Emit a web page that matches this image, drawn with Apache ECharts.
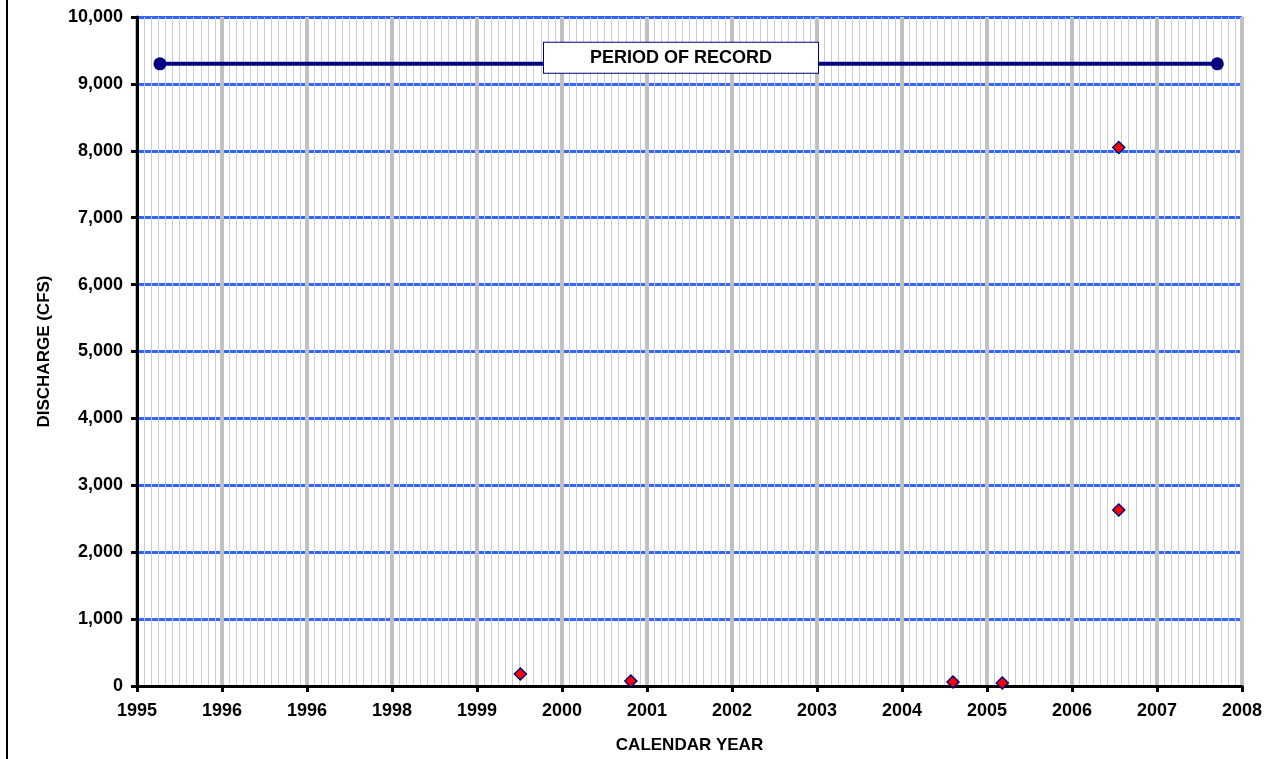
<!DOCTYPE html>
<html>
<head>
<meta charset="utf-8">
<script src="https://cdn.jsdelivr.net/npm/echarts@6/dist/echarts.min.js"></script>
<style>
  html, body { margin: 0; padding: 0; background: #fff; }
  #chart { width: 1270px; height: 759px; }
</style>
</head>
<body>
<div id="chart"></div>
<script>
// tick labels as printed on the original (note the repeated 1996)
var yearLabels = ["1995", "1996", "1996", "1998", "1999", "2000", "2001", "2002", "2003", "2004", "2005", "2006", "2007", "2008"];
// measurement dates (decimal year) and discharge
var sampleYears = [1999.51, 2000.81, 2004.6, 2005.18, 2006.55, 2006.55];
var sampleCfs = [180, 75, 60, 45, 8050, 2630];
// period of record bar
var periodYears = [1995.27, 2007.71];
var periodLevel = 9300;
var periodLabelYear = 2001.4;

var chart = echarts.init(document.getElementById("chart"));
var font = "'Liberation Sans', Arial, sans-serif";

chart.setOption({
  animation: false,
  grid: { left: 137, right: 28, top: 17, bottom: 73 },
  graphic: [{
    type: "line",
    shape: { x1: 7, y1: 0, x2: 7, y2: 759 },
    style: { stroke: "#000", lineWidth: 2 }
  }],
  xAxis: {
    type: "value",
    min: 1995,
    max: 2008,
    interval: 1,
    name: "CALENDAR YEAR",
    nameLocation: "middle",
    nameGap: 51,
    nameTextStyle: { fontFamily: font, fontWeight: "bold", fontSize: 17, color: "#000" },
    axisLine: { show: true, onZero: false, lineStyle: { color: "#000", width: 3 } },
    axisTick: { show: true, length: 6, lineStyle: { color: "#000", width: 3 } },
    axisLabel: {
      margin: 16,
      fontFamily: font, fontWeight: "bold", fontSize: 18, color: "#000",
      formatter: function (v) { return yearLabels[Math.round(v - 1995)]; }
    },
    splitLine: { show: true, lineStyle: { color: "#c0c0c0", width: 4 } },
    minorTick: { show: false, splitNumber: 12 },
    minorSplitLine: { show: true, lineStyle: { color: "#cccccc", width: 1 } }
  },
  yAxis: {
    type: "value",
    min: 0,
    max: 10000,
    interval: 1000,
    name: "DISCHARGE (CFS)",
    nameLocation: "middle",
    nameGap: 84,
    nameTextStyle: { fontFamily: font, fontWeight: "bold", fontSize: 17, color: "#000" },
    axisLine: { show: true, lineStyle: { color: "#000", width: 3 } },
    axisTick: { show: true, length: 6, lineStyle: { color: "#000", width: 3 } },
    axisLabel: {
      margin: 14,
      fontFamily: font, fontWeight: "bold", fontSize: 18, color: "#000",
      formatter: function (v) { return v.toLocaleString("en-US"); }
    },
    splitLine: { show: true, lineStyle: { color: "#3366ff", width: 3 } }
  },
  series: [
    {
      name: "Period of record",
      type: "line",
      data: periodYears.map(function (x) { return [x, periodLevel]; }),
      symbol: "circle",
      symbolSize: 13,
      lineStyle: { color: "#000080", width: 4 },
      itemStyle: { color: "#000080" },
      z: 3
    },
    {
      name: "label",
      type: "scatter",
      data: [[periodLabelYear, periodLevel]],
      symbolSize: 0,
      silent: true,
      z: 4,
      itemStyle: { opacity: 1 },
      label: {
        show: true,
        position: "inside",
        offset: [0, -6],
        formatter: "PERIOD OF RECORD",
        fontFamily: font, fontWeight: "bold", fontSize: 18, color: "#000",
        backgroundColor: "#fff",
        borderColor: "#000080",
        borderWidth: 1,
        padding: [6, 46, 6, 46]
      }
    },
    {
      name: "Discharge",
      type: "scatter",
      data: sampleYears.map(function (x, i) { return [x, sampleCfs[i]]; }),
      symbol: "diamond",
      symbolSize: 12,
      itemStyle: { color: "#ff0000", borderColor: "#000080", borderWidth: 1.5, opacity: 1 },
      z: 5
    }
  ]
});
</script>
</body>
</html>
